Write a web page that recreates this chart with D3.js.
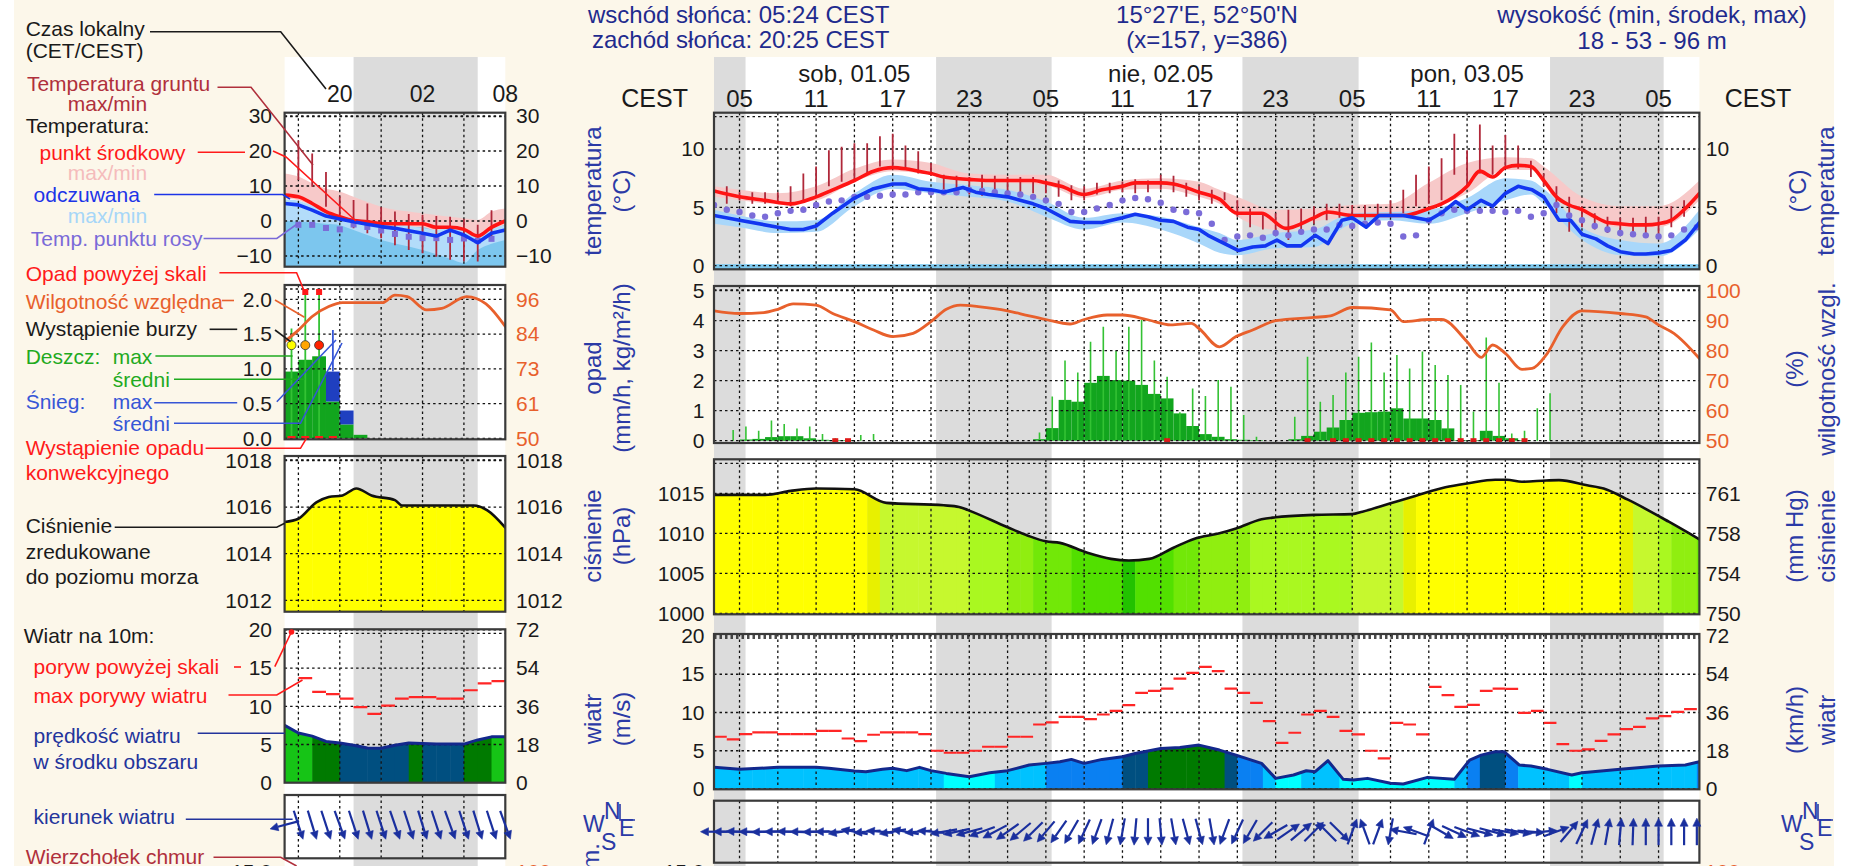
<!DOCTYPE html>
<html>
<head>
<meta charset="utf-8">
<script src="https://d3js.org/d3.v7.min.js"></script>
<style>
body { margin: 0; background: #fcf7ea; }
text { font-family: "Liberation Sans", Arial, sans-serif; }
.grid { stroke: #111; stroke-width: 1.3; stroke-dasharray: 2.5,3; fill: none; }
.frame { fill: none; stroke: #3a3a3a; stroke-width: 2.2; }
</style>
</head>
<body>
<div id="chart"></div>
<script>
// ---------------- data (hours counted from sob 01.05 05:00 CEST) ----------------
const hourTicks = [0, 6, 12, 18, 24, 30, 36, 42, 48, 54, 60, 66, 72];
const hourLabels = ["05","11","17","23","05","11","17","23","05","11","17","23","05"];
const dayLabels = ["sob, 01.05", "nie, 02.05", "pon, 03.05"];
const dayCenters = [9, 33, 57];
const nightStart = [-2, 15.4, 39.4, 63.5];
const nightEnd = [0.47, 24.45, 48.5, 72.4];

const tempHours = [-2,0,2,4,6,7.3,9,10.5,12,13,14,15,16,18,19.5,21,23,24,25.2,27,28.4,30,31,33,34,36,37.6,39,40.9,42.8,45,46.1,48,51,52,54,55,56,57,58,59,60,61,62,63,64,65,66,67,68,69,70,71,72,73,74,75.2];
const tempMid = [6.4,5.9,5.6,5.3,5.9,6.5,7.3,8.1,8.4,8.3,8.1,7.9,7.6,7.4,7.3,7.3,7.3,7.1,6.8,6.1,6.5,6.8,7.1,7.1,7.0,6.3,5.7,4.5,4.5,3.2,4.1,4.6,4.3,4.3,4.3,4.9,5.3,5.9,6.8,8.1,7.6,8.4,8.6,8.5,7.3,5.9,5.2,4.8,4.2,3.7,3.6,3.5,3.5,3.6,3.9,4.8,6.2];

const feelHours = [-2,0,3,4,5,6,7.3,9,10.5,12,13,14,15,16,17.5,18.5,19.5,21,23,24,25.9,27,28.4,30,31,32,33,34,35.1,36,36.7,37.6,39.1,40.2,41.2,42.1,42.9,44,45.1,46.1,47.2,48,49.1,50.1,51,52,54,55.1,56.1,57,58.1,59,60,61,62.1,63,64.2,65.1,66,67.1,68,69,70.1,71,72,73,74.1,75.2];
const feelVals = [4.3,3.9,3.3,3.1,3.1,3.4,4.5,5.8,6.6,7.0,7.0,6.6,6.5,6.3,6.7,6.3,6.1,5.9,5.3,4.9,3.8,3.7,3.7,4.1,4.4,4.2,3.9,3.8,3.3,3.1,2.6,2.1,1.3,1.6,1.7,2.2,1.7,1.7,2.6,1.9,3.9,4.1,3.3,4.3,4.3,4.3,3.9,4.6,5.5,4.8,5.6,5.1,6.2,6.8,6.5,5.9,3.9,3.9,2.7,2.3,1.7,1.2,1.0,1.0,1.1,1.3,2.2,3.7];

const bandHours = [-2,0,3,6,9,12,15,18,21,24,27,30,33,36,37.6,39,42,45,48,51,54,57,60,62,63,66,69,72,75.2];
const tempBandMax = [6.8,6.5,6.2,6.8,8.3,9.1,8.8,7.9,7.8,7.8,6.6,7.3,7.5,7.2,6.5,5.9,4.8,4.9,5.2,5.3,7.1,8.8,9.3,9.2,8.5,5.9,5.1,5.1,7.3];
const tempBandMin = [5.9,5.6,5.3,5.6,7.2,8.1,7.8,7.2,7.1,6.9,5.8,6.5,6.6,5.9,5.3,4.2,3.1,3.8,4.1,4.2,4.8,6.2,8.2,8.2,7.2,4.5,3.3,3.3,5.6];
const feelBandMax = [4.8,4.3,3.8,3.9,6.2,7.8,7.2,6.9,6.5,5.5,4.1,4.5,4.2,3.3,2.8,2.2,2.8,3.1,4.5,4.6,4.8,5.8,7.5,7.3,6.6,3.3,2.2,1.9,4.8];
const feelBandMin = [3.6,3.3,2.8,2.9,5.1,6.6,6.2,5.9,5.5,4.2,3.1,3.7,3.1,1.9,1.1,0.9,1.5,1.6,3.6,3.9,3.6,4.5,5.6,6.1,5.3,2.2,0.9,0.8,3.1];

const dewHours = d3.range(-2, 76);
const dewVals = [5.2,4.8,4.6,4.3,4.2,4.5,4.7,4.8,5.2,5.5,5.6,5.9,5.9,6.0,6.1,6.1,6.3,6.3,6.3,6.3,6.5,6.4,6.3,6.2,6.1,5.9,5.6,5.3,4.6,4.6,4.9,5.2,5.6,5.8,5.7,5.4,4.8,4.6,4.5,3.6,2.2,2.5,2.6,2.4,2.8,2.6,2.9,3.1,3.1,3.5,3.4,3.6,3.7,3.6,2.5,2.6,3.9,4.5,4.8,4.7,4.7,4.7,4.6,4.7,4.2,4.5,5.2,4.3,3.9,3.4,3.1,2.8,2.7,2.6,2.5,2.6,3.1,3.3];

const groundHours = d3.range(-1, 75);
const groundMax = [6.8,6.3,6.3,6.3,6.3,6.8,7.9,8.5,9.9,10.2,10.5,10.5,11.1,11.3,10.3,9.8,8.8,7.8,7.7,7.6,7.8,7.7,7.6,7.6,7.6,7.3,7.3,6.9,6.8,7.1,7.1,7.2,7.4,7.3,7.8,7.7,7.1,6.8,6.5,6.3,5.6,4.9,4.6,4.5,4.8,4.9,5.1,5.3,5.3,5.2,5.2,5.3,5.6,6.5,7.8,8.5,9.2,11.3,9.9,12.1,10.3,11.2,10.3,9.0,7.9,6.8,5.9,5.1,4.5,4.2,4.1,4.1,4.2,4.2,5.1,5.6];
const groundMin = [5.3,5.6,5.3,5.3,5.3,5.1,5.6,5.9,6.8,7.2,7.3,7.9,8.5,8.3,8.2,7.9,7.7,6.3,6.1,6.1,6.0,6.1,6.2,6.3,6.2,6.2,5.9,5.6,5.6,6.1,6.2,6.3,6.2,6.3,6.5,6.3,5.9,5.6,5.3,5.6,4.2,3.3,3.1,2.8,2.2,3.1,3.6,3.9,4.1,3.9,3.9,4.2,4.2,4.5,5.1,5.3,5.6,7.8,6.8,7.9,7.8,8.5,8.3,7.6,6.8,4.5,2.9,3.3,3.1,2.8,2.8,2.6,2.8,2.6,3.3,4.2];

const humHours = [-2,0,1.9,3,4.2,6,7.3,9,10.5,12,13.6,15,16.2,17.3,18.7,21,22.7,24,25.9,27,28.8,30,31.9,33.8,35.4,36,37.6,38.9,40.2,42,45,46.3,48,51,52,54,55,57,58.1,59,60,61.3,62.1,63.2,64.5,66,69,71,72,73.2,75.2];
const humVals = [93.3,92.4,92.7,93.8,95.6,95.2,92.4,89.7,86.9,84.7,85.8,89.7,93.8,95.2,94.7,93.3,91.6,90.4,88.9,90.4,91.9,91.9,90.4,88.6,89.1,87.4,81.3,84.7,86.9,90.0,91.1,91.6,94.4,93.6,89.7,90.4,90.4,83.0,77.8,81.9,79.1,73.8,74.1,78.6,88.0,93.3,92.4,91.3,88.6,85.8,77.4];

const rainHours = [0,1,2,3,4,5,6,7,8,23,24,25,26,27,28,29,30,31,32,33,34,35,36,37,38,39,40,43,44,45,46,47,48,49,50,51,52,53,54,55,56,57,58,59,60,61];
const rainMean = [0.04,0.06,0.12,0.15,0.15,0.08,0.03,0.02,0.02,0.05,0.42,1.36,1.3,1.93,2.16,2.02,2.0,1.86,1.56,1.41,0.91,0.49,0.22,0.13,0.05,0.03,0.02,0.05,0.16,0.3,0.44,0.69,0.93,0.95,0.97,1.08,0.74,0.74,0.69,0.41,0.02,0.02,0.33,0.16,0.08,0.02];
const rainMaxHours = [-1,0,1,2,3,4,5,6,7,9,10,23,24,25,26,27,28,29,30,31,32,33,34,35,36,37,38,39,40,43,44,45,46,47,48,49,50,51,52,53,54,55,56,57,58,59,60,61,62,63];
const rainMax = [0.36,0.47,0.33,0.67,0.56,0.41,0.47,0.22,0.08,0.19,0.22,0.27,1.47,2.67,2.27,3.3,3.8,3.0,3.8,4.02,2.67,2.13,0.95,1.74,1.49,2.02,1.8,0.86,0.13,0.8,2.8,1.3,1.52,2.27,2.8,3.27,2.27,2.86,2.41,2.97,2.52,2.19,1.86,0.97,3.44,1.93,0.24,0.33,1.08,1.58];
const convHours = [7,8,33,44,46,47,48,49,50,51,52,53,54,55,56,57,58,59,60,61];

const pressHours = [-2,2,4,6,9,11.5,16,17.2,17.9,21,22.6,24,25.1,27.2,29.1,30.5,32.1,34,35.6,37.6,38.9,40.9,42,45,48,48.8,51,53,55.3,57.1,59.2,60.1,61.3,63.2,64.2,66.4,67.7,69.6,72.8,75.2];
const pressVals = [1014.8,1014.8,1015.3,1015.6,1015.5,1013.8,1013.5,1013.3,1012.9,1010.75,1009.7,1009.0,1008.8,1007.6,1006.8,1006.6,1006.8,1008.2,1009.3,1010.0,1010.6,1011.75,1012.0,1012.3,1012.4,1012.7,1013.75,1014.7,1015.75,1016.25,1016.7,1016.7,1016.45,1016.6,1016.65,1016.0,1015.6,1014.2,1011.45,1009.25];
const mmHgLabels = ["750", "754", "758", "761"];

const windHours = [-2,0,3,6,7,9,9.9,11.2,12,13.1,14.1,15,16.2,18,19.6,21,22.7,24,25.1,26,27,28.4,30,31,33,34.5,36,37.6,38.9,40.9,42,43.4,44.4,45.1,46.1,47.3,48.1,49.2,51,52,53.9,56,57.2,58.1,59.2,59.9,61.1,62,63.3,65.2,66,69,72,74.1,75.2];
const windMean = [2.83,2.57,2.83,2.83,2.7,2.35,2.26,2.57,2.7,2.4,2.83,2.4,2.04,1.6,2.13,2.4,3.13,3.35,3.57,3.87,3.35,3.87,4.22,4.65,5.3,5.43,5.74,5.09,4.43,3.35,1.39,1.83,2.39,2.26,3.7,1.26,1.17,1.39,0.74,0.65,1.52,1.26,3.78,4.43,4.87,4.87,3.13,3.0,2.57,1.83,2.13,2.57,3.0,3.13,3.57];
const gustHours = d3.range(-2, 75);
const gustVals = [6.83,6.48,7.17,7.39,7.39,7.17,7.17,7.17,7.6,7.6,6.6,6.26,7.09,7.39,7.39,7.39,7.17,5.0,4.74,4.74,5.0,5.52,5.52,6.83,6.83,8.43,8.7,9.43,9.43,9.13,9.74,10.2,10.96,12.57,12.83,13.13,14.43,15.17,15.96,15.4,13.13,12.57,11.26,8.87,6.04,7.35,9.74,10.2,9.43,7.6,7.13,5.0,4.0,8.65,8.43,7.13,13.35,12.26,10.74,11.0,12.83,13.13,13.09,9.96,10.2,8.65,5.87,5.0,5.17,6.3,7.13,7.83,8.13,9.22,9.52,10.09,10.43];
const dirHours = d3.range(-2, 76);
const windDir = [90,90,92,90,88,90,92,90,88,90,80,100,85,95,80,100,85,95,80,78,75,70,62,55,50,45,40,35,30,25,20,15,10,5,0,355,350,345,345,350,20,25,30,45,60,235,230,225,135,315,200,160,200,10,100,110,200,300,295,290,285,285,280,280,275,265,250,220,205,195,190,185,182,180,180,180,180,180];

// ---- left (past) panel, hours counted from 00:00 of the previous day
const miniTicks = [20, 26, 32];
const miniTickLabels = ["20", "02", "08"];
const miniNight = [21, 30];
const miniHours = d3.range(16, 33);
const miniTemp = [7.4,6.9,5.0,2.7,1.2,0.1,-0.2,-0.7,-0.8,-0.8,-0.8,-1.8,-1.8,-2.4,-4.3,-1.8,0.0];
const miniFeel = [5.0,4.6,3.1,1.4,0.6,-0.2,-0.9,-1.6,-2.1,-2.8,-3.5,-4.3,-2.6,-4.0,-6.2,-3.5,-2.6];
const miniTempMax = [13.6,12.7,10.8,9.3,8.4,6.9,5.4,4.1,3.2,2.7,2.2,1.7,1.2,0.8,0.3,2.7,3.6];
const miniTempMin = [6.4,5.9,4.0,1.7,0.2,-0.9,-1.2,-1.7,-1.8,-1.8,-1.8,-2.8,-2.8,-3.4,-5.3,-2.8,-1.0];
const miniFeelMax = [6.2,5.8,4.4,2.8,1.6,0.8,0.2,-0.4,-0.9,-1.4,-2.0,-2.6,-1.5,-2.4,-4.5,-2.2,-1.2];
const miniFeelMin = [0.0,-0.2,-0.4,-0.8,-1.2,-2.6,-4.0,-5.4,-6.4,-7.3,-8.3,-9.5,-10.8,-12.0,-8.3,-6.5,-5.4];
const miniSubHours = d3.range(17, 32);
const miniDew = [-1.1,-1.1,-2.0,-2.4,-1.0,-1.7,-2.7,-3.7,-4.5,-4.9,-4.9,-5.4,-5.0,-5.6,-5.1];
const miniGroundMax = [23,19.3,14,7,6,5,3.9,2.7,2,1.7,1.4,1.2,0.5,-1.1,3.1];
const miniGroundMin = [11.7,9.8,4.1,0,-2.1,-3.5,-4.9,-6.9,-8.3,-9.2,-10.2,-11.1,-11.5,-11.6,-5.4];
const miniRainHours = [16,17,18,19,20,21];
const miniRainMean = [0.96,1.13,1.18,0.53,0.2,0.05];
const miniSnowMean = [0,0,0,0.43,0.2,0];
const miniRainMaxHours = [16,17,18];
const miniRainMax = [1.58,2.4,2.4];
const miniSnowMaxHours = [19];
const miniSnowMax = [1.56];
const miniStormHours = [16,17,18];
const miniStormLevel = ["#ffff00","#ffa500","#ff2200"];
const miniConvHours = [16,17,18,19];
const miniHumHours = [16,17,18,19.2,20.2,23.1,24,24.9,26.3,27.4,29.2,30.6,32];
const miniHum = [82,85.8,90.3,93.6,94.9,94.9,97.4,96.9,92.5,93.0,96.9,94.5,87.0];
const miniHumLabels = ["50","61","73","84","96"];
const miniPressHours = [16,17,18.3,19.2,20.2,21.2,22.3,24,24.5,29.7,30.7,32];
const miniPress = [1015.36,1015.5,1016.2,1016.43,1016.5,1016.8,1016.5,1016.3,1016.07,1016.07,1015.86,1015.12];
const miniWindHours = [16,17,18,19,20,21,22,23,24,25,27,29,30,31,32];
const miniWind = [7.5,6.5,6.1,5.4,5.2,4.9,4.55,4.5,4.9,5.2,5.05,5.05,5.6,6.0,6.0];
const miniGust = [13.7,11.9,11.6,11.0,9.9,9.0,10.1,11.0,11.2,11.2,11.0,11.0,12.1,13.0,13.3];
const miniDir = [75,342,343,342,340,342,343,342,341,342,343,342,340,342,343,342,340];

// ---------------- drawing ----------------
const W = 1860, H = 866;
const FONT = "'Liberation Sans', Arial, sans-serif";
const svg = d3.select("#chart").append("svg").attr("width", W).attr("height", H);

svg.append("rect").attr("width", W).attr("height", H).attr("fill", "#fcf7ea");
svg.append("rect").attr("x", 0).attr("width", 14).attr("height", H).attr("fill", "#fff");
svg.append("rect").attr("x", 1834).attr("width", 26).attr("height", H).attr("fill", "#fff");

const xM = d3.scaleLinear().domain([-2, 75.2]).range([714, 1699.4]);
const xS = d3.scaleLinear().domain([16, 32]).range([284.6, 505.3]);

// main y scales
const yT = d3.scaleLinear().domain([0, 10]).range([265.7, 149]);
const yR = d3.scaleLinear().domain([0, 5]).range([440.7, 290.7]);
const yH = d3.scaleLinear().domain([50, 100]).range([440.7, 290.7]);
const yP = d3.scaleLinear().domain([1000, 1015]).range([613.3, 493.3]);
const yW = d3.scaleLinear().domain([0, 20]).range([789, 636]);
// mini y scales
const sT = d3.scaleLinear().domain([-10, 30]).range([256, 116]);
const sR = d3.scaleLinear().domain([0, 2]).range([438.3, 299.3]);
const sH = d3.scaleLinear().domain([50, 96]).range([438.3, 299.3]);
const sP = d3.scaleLinear().domain([1012, 1018]).range([600.3, 460.5]);
const sW = d3.scaleLinear().domain([0, 20]).range([782.7, 629.9]);

const M = { x0: 714, x1: 1699.4 };
const S = { x0: 284.6, x1: 505.3 };
const mainP = { t: [112.7, 269.3], r: [286, 443], p: [459.3, 614.3], w: [634, 789.3], d: [800.7, 862.7] };
const miniP = { t: [112.7, 266.7], r: [285, 439.3], p: [456, 611.7], w: [629.3, 782.7], d: [795, 858.3] };
const fmtInt = d3.format("d");

// white plotting columns with night shading
function column(x0, x1, nights) {
  svg.append("rect").attr("x", x0).attr("y", 57).attr("width", x1 - x0).attr("height", H - 57).attr("fill", "#fff");
  svg.append("g").selectAll("rect").data(nights).join("rect")
    .attr("x", d => d[0]).attr("y", 57).attr("width", d => d[1] - d[0]).attr("height", H - 57)
    .attr("fill", "#dcdcdc");
}
column(M.x0, M.x1, d3.zip(nightStart, nightEnd).map(d => [xM(d[0]), xM(d[1])]));
column(S.x0, S.x1, [[xS(miniNight[0]), xS(miniNight[1])]]);

let clipId = 0;
function panel(x0, x1, y) {
  const id = "clip" + (clipId++);
  svg.append("clipPath").attr("id", id).append("rect")
    .attr("x", x0).attr("y", y[0]).attr("width", x1 - x0).attr("height", y[1] - y[0]);
  return svg.append("g").attr("clip-path", `url(#${id})`);
}
function frame(x0, x1, y) {
  svg.append("rect").attr("class", "frame").attr("x", x0).attr("y", y[0]).attr("width", x1 - x0).attr("height", y[1] - y[0]);
}
function grid(g, x0, x1, y, xs, ys) {
  g.selectAll(null).data(xs).join("line").attr("class", "grid")
    .attr("x1", d => d).attr("x2", d => d).attr("y1", y[0]).attr("y2", y[1]);
  g.selectAll(null).data(ys.concat([y[0] + 4])).join("line").attr("class", "grid")
    .attr("x1", x0).attr("x2", x1).attr("y1", d => d).attr("y2", d => d);
}
function area(g, hours, hi, lo, x, y, color) {
  g.append("path").datum(d3.zip(hours, hi, lo))
    .attr("d", d3.area().curve(d3.curveMonotoneX).x(d => x(d[0])).y0(d => y(d[2])).y1(d => y(d[1])))
    .attr("fill", color);
}
function line(g, hours, vals, x, y, color, w, curve) {
  g.append("path").datum(d3.zip(hours, vals))
    .attr("d", d3.line().curve(curve || d3.curveMonotoneX).x(d => x(d[0])).y(d => y(d[1])))
    .attr("fill", "none").attr("stroke", color).attr("stroke-width", w)
    .attr("stroke-linejoin", "round").attr("stroke-linecap", "round");
}
function axis(gen, x, pad, color) {
  const g = svg.append("g").attr("transform", `translate(${x},0)`).call(gen.tickSize(0).tickPadding(pad));
  g.select(".domain").remove();
  g.attr("font-size", 21).attr("font-family", FONT);
  g.selectAll("text").attr("fill", color || "#1a1a1a");
  return g;
}
function arrows(hours, dirs, x, cy, L) {
  const g = svg.append("g").attr("fill", "#1a2f9e").attr("stroke", "#1a2f9e");
  hours.forEach((h, i) => {
    const a = (dirs[i] + 180) * Math.PI / 180;
    const ux = Math.sin(a), uy = -Math.cos(a);
    const cx = x(h);
    const hx = cx + ux * L / 2, hy = cy + uy * L / 2;
    const bx = hx - ux * 8, by = hy - uy * 8;
    g.append("line").attr("x1", cx - ux * L / 2).attr("y1", cy - uy * L / 2)
      .attr("x2", bx).attr("y2", by).attr("stroke-width", 2.2);
    g.append("path").attr("stroke-width", 0.6)
      .attr("d", `M${hx},${hy}L${bx - uy * 4},${by + ux * 4}L${bx + uy * 4},${by - ux * 4}Z`);
  });
}

const mainXs = d3.range(0, 73, 3).map(xM);
const miniXs = d3.range(17, 32, 3).map(xS);

// ===== main temperature =====
let g = panel(M.x0, M.x1, mainP.t);
g.append("rect").attr("x", M.x0).attr("y", yT(0) - 1.5).attr("width", M.x1 - M.x0).attr("height", mainP.t[1] - yT(0) + 1.5).attr("fill", "#7cc8ee");
area(g, bandHours, tempBandMax, tempBandMin, xM, yT, "#f7c9c9");
area(g, bandHours, feelBandMax, feelBandMin, xM, yT, "#a9d7fa");
grid(g, M.x0, M.x1, mainP.t, mainXs, [0, 5, 10].map(yT));
g.selectAll(null).data(d3.zip(groundHours, groundMax, groundMin)).join("line")
  .attr("x1", d => xM(d[0])).attr("x2", d => xM(d[0])).attr("y1", d => yT(d[1])).attr("y2", d => yT(d[2]))
  .attr("stroke", "#b0283a").attr("stroke-width", 1.8);
g.selectAll(null).data(d3.zip(dewHours, dewVals)).join("circle")
  .attr("cx", d => xM(d[0])).attr("cy", d => yT(d[1])).attr("r", 3.2).attr("fill", "#7b6cd8");
line(g, tempHours, tempMid, xM, yT, "#ff1414", 3.6);
line(g, feelHours, feelVals, xM, yT, "#1236f0", 3.6, d3.curveLinear);
frame(M.x0, M.x1, mainP.t);
axis(d3.axisLeft(yT).tickValues([0, 5, 10]).tickFormat(fmtInt), M.x0, 9.5);
axis(d3.axisRight(yT).tickValues([0, 5, 10]).tickFormat(fmtInt), M.x1, 6.3);

// ===== main precipitation / humidity =====
g = panel(M.x0, M.x1, mainP.r);
g.selectAll(null).data(d3.zip(rainHours, rainMean)).join("rect")
  .attr("x", d => xM(d[0])).attr("width", d => xM(d[0] + 1) - xM(d[0]))
  .attr("y", d => yR(d[1])).attr("height", d => yR(0) - yR(d[1])).attr("fill", "#12a51e");
g.selectAll(null).data(d3.zip(rainMaxHours, rainMax)).join("line")
  .attr("x1", d => xM(d[0] + 0.5)).attr("x2", d => xM(d[0] + 0.5)).attr("y1", yR(0)).attr("y2", d => yR(d[1]))
  .attr("stroke", "#34c234").attr("stroke-width", 1.6);
grid(g, M.x0, M.x1, mainP.r, mainXs, [0, 1, 2, 3, 4, 5].map(yR));
g.selectAll(null).data(convHours).join("rect")
  .attr("x", d => xM(d + 0.5) - 3).attr("y", yR(0) - 2.5).attr("width", 6).attr("height", 4).attr("fill", "#e01818");
line(g, humHours, humVals, xM, yH, "#e8602c", 2.8);
frame(M.x0, M.x1, mainP.r);
axis(d3.axisLeft(yR).tickValues([0, 1, 2, 3, 4, 5]).tickFormat(fmtInt), M.x0, 9.5);
axis(d3.axisRight(yH).tickValues([50, 60, 70, 80, 90, 100]).tickFormat(fmtInt), M.x1, 6.3, "#e8602c");

// ===== main pressure =====
const pressAt = d3.scaleLinear().domain(pressHours).range(pressVals).clamp(true);
const pressColor = d3.scaleThreshold()
  .domain([1006.7, 1008.5, 1009.5, 1011, 1012.5, 1014.0, 1014.6])
  .range(["#22c200", "#52e000", "#72e808", "#90ee10", "#aaf820", "#c6f82e", "#e8f000", "#ffff00"]);
const pressArea = d3.area().curve(d3.curveMonotoneX).x(d => xM(d[0])).y0(mainP.p[1]).y1(d => yP(d[1]));
svg.append("clipPath").attr("id", "pressClip").append("path").attr("d", pressArea(d3.zip(pressHours, pressVals)));
g = panel(M.x0, M.x1, mainP.p);
g.append("g").attr("clip-path", "url(#pressClip)").selectAll("rect").data(d3.range(-2, 76)).join("rect")
  .attr("x", d => xM(d)).attr("width", d => xM(d + 1) - xM(d) + 0.5).attr("y", mainP.p[0]).attr("height", mainP.p[1] - mainP.p[0])
  .attr("fill", d => pressColor(pressAt(d + 0.5)));
grid(g, M.x0, M.x1, mainP.p, mainXs, [1000, 1005, 1010, 1015].map(yP));
line(g, pressHours, pressVals, xM, yP, "#111", 2.6);
frame(M.x0, M.x1, mainP.p);
axis(d3.axisLeft(yP).tickValues([1000, 1005, 1010, 1015]).tickFormat(fmtInt), M.x0, 9.5);
axis(d3.axisRight(yP).tickValues([1000, 1005, 1010, 1015]).tickFormat((d, i) => mmHgLabels[i]), M.x1, 6.3);

// ===== main wind =====
const windAt = d3.scaleLinear().domain(windHours).range(windMean).clamp(true);
const windColor = d3.scaleThreshold().domain([2.1, 3.3, 4.35, 5.1, 6.0])
  .range(["#00ffff", "#00c2ff", "#0a80f2", "#004f80", "#007a00", "#16c416"]);
const windArea = d3.area().x(d => xM(d[0])).y0(mainP.w[1]).y1(d => yW(d[1]));
svg.append("clipPath").attr("id", "windClip").append("path").attr("d", windArea(d3.zip(windHours, windMean)));
g = panel(M.x0, M.x1, mainP.w);
g.append("g").attr("clip-path", "url(#windClip)").selectAll("rect").data(d3.range(-2, 76)).join("rect")
  .attr("x", d => xM(d)).attr("width", d => xM(d + 1) - xM(d) + 0.5).attr("y", mainP.w[0]).attr("height", mainP.w[1] - mainP.w[0])
  .attr("fill", d => windColor(windAt(d + 0.5)));
grid(g, M.x0, M.x1, mainP.w, mainXs, [0, 5, 10, 15, 20].map(yW));
line(g, windHours, windMean, xM, yW, "#13288c", 3, d3.curveLinear);
g.selectAll(null).data(d3.zip(gustHours, gustVals)).join("line")
  .attr("x1", d => xM(d[0])).attr("x2", d => xM(d[0] + 1)).attr("y1", d => yW(d[1])).attr("y2", d => yW(d[1]))
  .attr("stroke", "#ff2626").attr("stroke-width", 2.2);
frame(M.x0, M.x1, mainP.w);
axis(d3.axisLeft(yW).tickValues([0, 5, 10, 15, 20]).tickFormat(fmtInt), M.x0, 9.5);
axis(d3.axisRight(yW).tickValues([0, 5, 10, 15, 20]).tickFormat(d => fmtInt(d * 3.6)), M.x1, 6.3);

// ===== main wind direction =====
g = panel(M.x0, M.x1, mainP.d);
g.selectAll(null).data(mainXs).join("line").attr("class", "grid")
  .attr("x1", d => d).attr("x2", d => d).attr("y1", mainP.d[0]).attr("y2", mainP.d[1]);
frame(M.x0, M.x1, mainP.d);
arrows(dirHours, windDir, xM, 831.7, 27);

// ===== mini temperature =====
g = panel(S.x0, S.x1, miniP.t);
g.append("rect").attr("x", S.x0).attr("y", sT(0)).attr("width", S.x1 - S.x0).attr("height", miniP.t[1] - sT(0)).attr("fill", "#7cc6ee");
area(g, miniHours, miniTempMax, miniTempMin, xS, sT, "#f7c9c9");
area(g, miniHours, miniFeelMax, miniFeelMin, xS, sT, "#b3dcfa");
grid(g, S.x0, S.x1, miniP.t, miniXs, [-10, 0, 10, 20, 30].map(sT));
g.selectAll(null).data(d3.zip(miniSubHours, miniGroundMax, miniGroundMin)).join("line")
  .attr("x1", d => xS(d[0])).attr("x2", d => xS(d[0])).attr("y1", d => sT(d[1])).attr("y2", d => sT(d[2]))
  .attr("stroke", "#b0283a").attr("stroke-width", 1.8);
g.selectAll(null).data(d3.zip(miniSubHours, miniDew)).join("rect")
  .attr("x", d => xS(d[0]) - 3).attr("y", d => sT(d[1]) - 3).attr("width", 6).attr("height", 6).attr("fill", "#7b6cd8");
line(g, miniHours, miniTemp, xS, sT, "#ff1414", 3.6);
line(g, miniHours, miniFeel, xS, sT, "#1236f0", 3.6, d3.curveLinear);
frame(S.x0, S.x1, miniP.t);
axis(d3.axisLeft(sT).tickValues([-10, 0, 10, 20, 30]).tickFormat(fmtInt), S.x0, 12.6);
axis(d3.axisRight(sT).tickValues([-10, 0, 10, 20, 30]).tickFormat(fmtInt), S.x1, 10.7);

// ===== mini precipitation =====
g = panel(S.x0, S.x1, miniP.r);
g.selectAll(null).data(d3.zip(miniRainHours, miniRainMean)).join("rect")
  .attr("x", d => xS(d[0])).attr("width", d => xS(d[0] + 1) - xS(d[0]))
  .attr("y", d => sR(d[1])).attr("height", d => sR(0) - sR(d[1])).attr("fill", "#12a51e");
g.selectAll(null).data(d3.zip(miniRainHours, miniRainMean, miniSnowMean).filter(d => d[2] > 0)).join("rect")
  .attr("x", d => xS(d[0])).attr("width", d => xS(d[0] + 1) - xS(d[0]))
  .attr("y", d => sR(d[1] + d[2])).attr("height", d => sR(d[1]) - sR(d[1] + d[2])).attr("fill", "#1f3fc0");
g.selectAll(null).data(d3.zip(miniRainMaxHours, miniRainMax)).join("line")
  .attr("x1", d => xS(d[0] + 0.5)).attr("x2", d => xS(d[0] + 0.5)).attr("y1", sR(0)).attr("y2", d => Math.max(sR(d[1]), 291.7))
  .attr("stroke", "#34c234").attr("stroke-width", 1.8);
g.selectAll(null).data(d3.zip(miniSnowMaxHours, miniSnowMax)).join("line")
  .attr("x1", d => xS(d[0] + 0.5)).attr("x2", d => xS(d[0] + 0.5)).attr("y1", sR(0.96)).attr("y2", d => sR(d[1]))
  .attr("stroke", "#3656d6").attr("stroke-width", 1.8);
grid(g, S.x0, S.x1, miniP.r, miniXs, [0, 0.5, 1, 1.5, 2].map(sR));
g.selectAll(null).data(d3.zip(miniRainMaxHours, miniRainMax).filter(d => d[1] > 2.2)).join("rect")
  .attr("x", d => xS(d[0] + 0.5) - 3).attr("y", 289).attr("width", 6).attr("height", 6).attr("fill", "#ff1a1a");
g.selectAll(null).data(miniConvHours).join("line")
  .attr("x1", d => xS(d + 0.5) - 4).attr("x2", d => xS(d + 0.5) + 4).attr("y1", sR(0) - 1).attr("y2", sR(0) - 1)
  .attr("stroke", "#ff1a1a").attr("stroke-width", 2.5);
line(g, miniHumHours, miniHum, xS, sH, "#e8602c", 2.8);
g.selectAll(null).data(d3.zip(miniStormHours, miniStormLevel)).join("circle")
  .attr("cx", d => xS(d[0] + 0.5)).attr("cy", sR(1.34)).attr("r", 4.5)
  .attr("fill", d => d[1]).attr("stroke", "#333").attr("stroke-width", 0.8);
frame(S.x0, S.x1, miniP.r);
axis(d3.axisLeft(sR).tickValues([0, 0.5, 1, 1.5, 2]).tickFormat(d3.format(".1f")), S.x0, 12.6);
axis(d3.axisRight(sR).tickValues([0, 0.5, 1, 1.5, 2]).tickFormat((d, i) => miniHumLabels[i]), S.x1, 10.7, "#e8602c");

// ===== mini pressure =====
const miniPressAt = d3.scaleLinear().domain(miniPressHours).range(miniPress).clamp(true);
const miniPressColor = d3.scaleThreshold().domain([1016.75]).range(["#ffff00", "#ffc020"]);
const miniArea = d3.area().curve(d3.curveMonotoneX).x(d => xS(d[0])).y0(miniP.p[1]).y1(d => sP(d[1]));
svg.append("clipPath").attr("id", "miniPressClip").append("path").attr("d", miniArea(d3.zip(miniPressHours, miniPress)));
g = panel(S.x0, S.x1, miniP.p);
g.append("g").attr("clip-path", "url(#miniPressClip)").selectAll("rect").data(d3.range(16, 32)).join("rect")
  .attr("x", d => xS(d)).attr("width", d => xS(d + 1) - xS(d) + 0.5).attr("y", miniP.p[0]).attr("height", miniP.p[1] - miniP.p[0])
  .attr("fill", d => miniPressColor(miniPressAt(d + 1)));
grid(g, S.x0, S.x1, miniP.p, miniXs, [1012, 1014, 1016, 1018].map(sP));
line(g, miniPressHours, miniPress, xS, sP, "#111", 2.6);
frame(S.x0, S.x1, miniP.p);
axis(d3.axisLeft(sP).tickValues([1012, 1014, 1016, 1018]).tickFormat(fmtInt), S.x0, 12.6);
axis(d3.axisRight(sP).tickValues([1012, 1014, 1016, 1018]).tickFormat(fmtInt), S.x1, 10.7);

// ===== mini wind =====
const miniWindAt = d3.scaleLinear().domain(miniWindHours).range(miniWind).clamp(true);
const miniWindArea = d3.area().x(d => xS(d[0])).y0(miniP.w[1]).y1(d => sW(d[1]));
svg.append("clipPath").attr("id", "miniWindClip").append("path").attr("d", miniWindArea(d3.zip(miniWindHours, miniWind)));
g = panel(S.x0, S.x1, miniP.w);
g.append("g").attr("clip-path", "url(#miniWindClip)").selectAll("rect").data(d3.range(16, 32)).join("rect")
  .attr("x", d => xS(d)).attr("width", d => xS(d + 1) - xS(d) + 0.5).attr("y", miniP.w[0]).attr("height", miniP.w[1] - miniP.w[0])
  .attr("fill", d => windColor(miniWindAt(d + 0.5)));
grid(g, S.x0, S.x1, miniP.w, miniXs, [0, 5, 10, 15, 20].map(sW));
line(g, miniWindHours, miniWind, xS, sW, "#13288c", 3, d3.curveLinear);
g.selectAll(null).data(d3.zip(miniSubHours, miniGust)).join("line")
  .attr("x1", d => xS(d[0])).attr("x2", d => xS(d[0] + 1)).attr("y1", d => sW(d[1])).attr("y2", d => sW(d[1]))
  .attr("stroke", "#ff2626").attr("stroke-width", 2.2);
frame(S.x0, S.x1, miniP.w);
svg.append("circle").attr("cx", xS(16.5)).attr("cy", 632).attr("r", 2.8).attr("fill", "#ff1a1a");
axis(d3.axisLeft(sW).tickValues([0, 5, 10, 15, 20]).tickFormat(fmtInt), S.x0, 12.6);
axis(d3.axisRight(sW).tickValues([0, 5, 10, 15, 20]).tickFormat(d => fmtInt(d * 3.6)), S.x1, 10.7);

// ===== mini wind direction =====
g = panel(S.x0, S.x1, miniP.d);
g.selectAll(null).data(miniXs).join("line").attr("class", "grid")
  .attr("x1", d => d).attr("x2", d => d).attr("y1", miniP.d[0]).attr("y2", miniP.d[1]);
frame(S.x0, S.x1, miniP.d);
arrows(miniHours, miniDir, xS, 825, 30);

// ---------------- texts ----------------
function txt(x, y, s, color, size, anchor) {
  return svg.append("text").attr("x", x).attr("y", y).text(s)
    .attr("font-family", FONT).attr("font-size", size || 21)
    .attr("fill", color || "#1a1a1a").attr("text-anchor", anchor || "start");
}
function rtxt(x, y, s, color, anchor) {
  return svg.append("text").attr("transform", `translate(${x},${y}) rotate(-90)`)
    .attr("text-anchor", anchor || "middle").attr("dominant-baseline", "central")
    .attr("font-family", FONT).attr("font-size", 24).attr("fill", color || "#2b3aa6").text(s);
}
function conn(points, color) {
  svg.append("path").attr("d", d3.line()(points)).attr("fill", "none")
    .attr("stroke", color).attr("stroke-width", 1.6);
}

// header
const NAVY = "#1f2b8e";
txt(588, 23.3, "wschód słońca: 05:24 CEST", NAVY, 24);
txt(592, 48.3, "zachód słońca: 20:25 CEST", NAVY, 24);
txt(1207, 23.3, "15°27'E, 52°50'N", NAVY, 24, "middle");
txt(1207, 48.3, "(x=157, y=386)", NAVY, 24, "middle");
txt(1652, 23.3, "wysokość (min, środek, max)", NAVY, 24, "middle");
txt(1652, 49, "18 - 53 - 96 m", NAVY, 24, "middle");

// time labels
svg.append("g").selectAll("text").data(dayLabels).join("text")
  .attr("x", (d, i) => xM(dayCenters[i])).attr("y", 81.7).attr("text-anchor", "middle")
  .attr("font-size", 24).attr("font-family", FONT).attr("fill", "#1a1a1a").text(d => d);
svg.append("g").selectAll("text").data(hourLabels).join("text")
  .attr("x", (d, i) => xM(hourTicks[i])).attr("y", 107.3).attr("text-anchor", "middle")
  .attr("font-size", 24).attr("font-family", FONT).attr("fill", "#1a1a1a").text(d => d);
txt(654.6, 107.3, "CEST", "#1a1a1a", 25, "middle");
txt(1758, 107.3, "CEST", "#1a1a1a", 25, "middle");
svg.append("g").selectAll("text").data(miniTickLabels).join("text")
  .attr("x", (d, i) => xS(miniTicks[i])).attr("y", 101.7).attr("text-anchor", "middle")
  .attr("font-size", 23).attr("font-family", FONT).attr("fill", "#1a1a1a").text(d => d);

// axis titles
const TITLE = "#2b3aa6";
rtxt(592, 191, "temperatura"); rtxt(621, 191, "(°C)");
rtxt(592, 368, "opad"); rtxt(621, 368, "(mm/h, kg/m²/h)");
rtxt(592, 536, "ciśnienie"); rtxt(621, 536, "(hPa)");
rtxt(592, 719, "wiatr"); rtxt(621, 719, "(m/s)");
rtxt(590, 843, "wysokość n.p.m.", TITLE, "end");
rtxt(1797, 191, "(°C)"); rtxt(1825, 191, "temperatura");
rtxt(1794, 369, "(%)"); rtxt(1826, 369, "wilgotność wzgl.");
rtxt(1794, 536, "(mm Hg)"); rtxt(1826, 536, "ciśnienie");
rtxt(1794, 720, "(km/h)"); rtxt(1826, 720, "wiatr");

function compass(x, y) {
  txt(x, y + 30, "W", TITLE, 23);
  txt(x + 21, y + 17, "N", TITLE, 23);
  txt(x + 36, y + 34, "E", TITLE, 23);
  txt(x + 18, y + 48, "S", TITLE, 23);
  conn([[x + 37, y + 2], [x + 37, y + 18], [x + 52, y + 18]], TITLE);
}
compass(583, 802);
compass(1781, 802);

// bottom, cut-off labels of the next panel
txt(272, 879, "15.0", "#1a1a1a", 21, "end");
txt(704.5, 879, "15.0", "#1a1a1a", 21, "end");
txt(516, 879, "100", "#e8602c", 21);
txt(1705, 879, "100", "#e8602c", 21);

// legend on the left
const RED = "#ff1a1a", DRED = "#b0303c", BLUE = "#1c34e8", GREEN = "#1faa1f", SNOW = "#3656d6", DARK = "#23349c", BLACK = "#1a1a1a";
txt(25.7, 35.8, "Czas lokalny"); conn([[150, 31.7], [280.7, 31.7], [326, 89]], BLACK);
txt(25.7, 57.5, "(CET/CEST)");
txt(26.9, 90.8, "Temperatura gruntu", DRED); conn([[217.5, 87.3], [251, 87.3], [313, 165]], DRED);
txt(107.5, 110.8, "max/min", DRED, 21, "middle");
txt(25.7, 132.5, "Temperatura:");
txt(39.5, 159.8, "punkt środkowy", RED); conn([[197.7, 152.3], [245, 152.3]], RED);
conn([[273, 151], [286, 157], [356, 221]], RED);
txt(107.5, 179.5, "max/min", "#f5bcbc", 21, "middle");
txt(33.6, 201.5, "odczuwana", BLUE); conn([[154.2, 194.5], [282.7, 194.5], [290, 199]], BLUE);
txt(107.5, 222.5, "max/min", "#a6d6f8", 21, "middle");
txt(30.8, 245.5, "Temp. punktu rosy", "#7a6ad8"); conn([[203.6, 238.5], [276.8, 238.5], [300, 222]], "#7a6ad8");
txt(25.7, 280.8, "Opad powyżej skali", RED); conn([[219.4, 272.7], [296.6, 272.7], [304.5, 291.7]], RED);
txt(25.7, 308.5, "Wilgotność względna", "#e8602c"); conn([[222, 300.5], [234, 300.5]], "#e8602c");
conn([[275, 300], [304.5, 317.3]], "#e8602c");
txt(25.7, 335.8, "Wystąpienie burzy"); conn([[209.6, 329.3], [237.2, 329.3]], BLACK);
conn([[275, 330], [290.6, 341.7]], BLACK);
txt(25.7, 363.5, "Deszcz:", GREEN); txt(112.7, 363.5, "max", GREEN); conn([[155.4, 356], [292.6, 356]], GREEN);
txt(112.7, 386.8, "średni", GREEN); conn([[174, 379.3], [304.5, 379.3]], GREEN);
txt(25.7, 409.2, "Śnieg:", SNOW); txt(112.7, 409.2, "max", SNOW);
conn([[154.2, 402.7], [237.2, 402.7]], SNOW); conn([[276.8, 401.7], [336, 340]], SNOW);
txt(112.7, 430.8, "średni", SNOW); conn([[174, 423.3], [300.5, 423.3], [342, 343]], SNOW);
txt(25.7, 454.8, "Wystąpienie opadu", RED); conn([[205.6, 448.3], [300.5, 448.3], [306.4, 438.3]], RED);
txt(25.7, 479.8, "konwekcyjnego", RED);
txt(25.7, 532.5, "Ciśnienie"); conn([[114.7, 527.3], [276.8, 527.3], [284.7, 523.3]], BLACK);
txt(25.7, 559.2, "zredukowane");
txt(25.7, 584.2, "do poziomu morza");
txt(23.7, 642.5, "Wiatr na 10m:");
txt(33.6, 674.2, "poryw powyżej skali", RED); conn([[234, 667], [241, 667]], RED);
conn([[274.8, 666.7], [291.4, 632]], RED);
txt(33.6, 702.5, "max porywy wiatru", RED); conn([[228.5, 695], [276.8, 695], [302.5, 680]], RED);
txt(33.6, 742.5, "prędkość wiatru", DARK); conn([[197.7, 733.3], [284.7, 733.3]], DARK);
txt(33.6, 768.5, "w środku obszaru", DARK);
txt(33.6, 824.2, "kierunek wiatru", DARK); conn([[185.8, 819.3], [292.6, 819.3]], DARK);
txt(25.7, 864.2, "Wierzchołek chmur", DRED); conn([[213.5, 857.3], [280.7, 857.3], [296.6, 866]], DRED);
</script>
</body>
</html>
